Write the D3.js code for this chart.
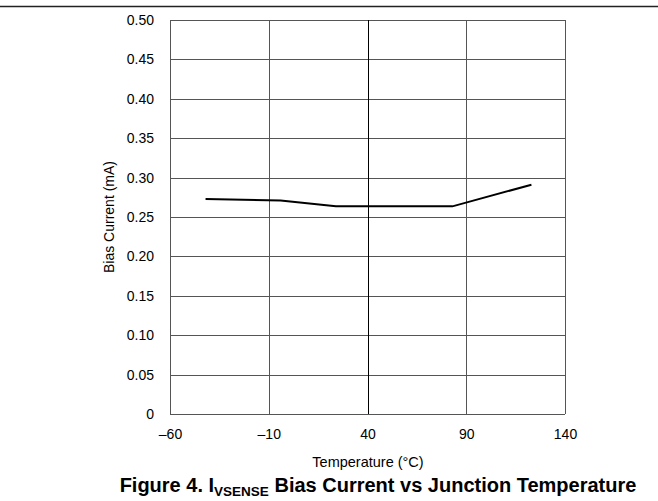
<!DOCTYPE html>
<html>
<head>
<meta charset="utf-8">
<title>Bias Current vs Junction Temperature</title>
<script src="https://cdn.jsdelivr.net/npm/d3@7"></script>
<style>
  body { margin: 0; background: #fff; }
  text { font-family: "Liberation Sans", Arial, sans-serif; fill: #000; }
</style>
</head>
<body>
<svg id="chart" width="658" height="501"></svg>
<script>
// data
var tempC = [-42, -4, 24, 83, 123];
var biasMA = [0.273, 0.271, 0.2635, 0.2635, 0.291];
var xTicks = [-60, -10, 40, 90, 140];
var yTicks = [0, 0.05, 0.10, 0.15, 0.20, 0.25, 0.30, 0.35, 0.40, 0.45, 0.50];

var svg = d3.select('#chart');
// plot box (note: "top" is taken by window.top)
var plotL = 170, plotR = 565, plotT = 20, plotB = 414;

var x = d3.scaleLinear().domain([-60, 140]).range([plotL, plotR]);
var y = d3.scaleLinear().domain([0, 0.5]).range([plotB, plotT]);

// rule across the top of the page
svg.append('line').attr('x1', 0).attr('x2', 658).attr('y1', 6.5).attr('y2', 6.5)
  .attr('stroke', '#222').attr('stroke-width', 1.5);

// grid
svg.append('g').selectAll('line').data(yTicks).join('line')
  .attr('x1', plotL).attr('x2', plotR)
  .attr('y1', function(d){ return Math.round(y(d)) + 0.5; })
  .attr('y2', function(d){ return Math.round(y(d)) + 0.5; })
  .attr('stroke', '#555').attr('stroke-width', 1);
svg.append('g').selectAll('line').data(xTicks).join('line')
  .attr('y1', plotT).attr('y2', plotB)
  .attr('x1', function(d){ return Math.round(x(d)) + 0.5; })
  .attr('x2', function(d){ return Math.round(x(d)) + 0.5; })
  .attr('stroke', function(d){ return d === 40 ? '#000' : '#555'; }).attr('stroke-width', 1);

// axes as plain labels
var yAxis = d3.axisLeft(y).tickValues(yTicks).tickSize(0).tickPadding(16)
  .tickFormat(function(d){ return d === 0 ? '0' : d3.format('.2f')(d); });
var gy = svg.append('g').attr('transform', 'translate(' + plotL + ',0)').call(yAxis);
gy.select('.domain').remove();
gy.selectAll('text').attr('font-size', 14).attr('font-family', '"Liberation Sans", Arial, sans-serif');

var xAxis = d3.axisBottom(x).tickValues(xTicks).tickSize(0).tickPadding(15)
  .tickFormat(function(d){ return d < 0 ? '\u2013' + Math.abs(d) : '' + d; });
var gx = svg.append('g').attr('transform', 'translate(0,' + plotB + ')').call(xAxis);
gx.select('.domain').remove();
gx.selectAll('text').attr('font-size', 14).attr('font-family', '"Liberation Sans", Arial, sans-serif');

// series
var pts = tempC.map(function(t, i){ return [t, biasMA[i]]; });
svg.append('path').datum(pts)
  .attr('fill', 'none').attr('stroke', '#000').attr('stroke-width', 2)
  .attr('d', d3.line().x(function(d){ return x(d[0]); }).y(function(d){ return y(d[1]); }));

// axis titles
svg.append('text').attr('x', 368).attr('y', 467).attr('text-anchor', 'middle')
  .attr('font-size', 14.5).text('Temperature (\u00B0C)');
svg.append('text').attr('transform', 'translate(114,' + y(0.25) + ') rotate(-90)')
  .attr('text-anchor', 'middle').attr('font-size', 14).text('Bias Current (mA)');

// caption
var cap = svg.append('text').attr('x', 378).attr('y', 492).attr('text-anchor', 'middle')
  .attr('font-size', 20).attr('font-weight', 'bold');
cap.append('tspan').text('Figure 4. I');
cap.append('tspan').attr('font-size', 13.5).attr('dy', 4).text('VSENSE');
cap.append('tspan').attr('dy', -4).text(' Bias Current vs Junction Temperature');
</script>
</body>
</html>
